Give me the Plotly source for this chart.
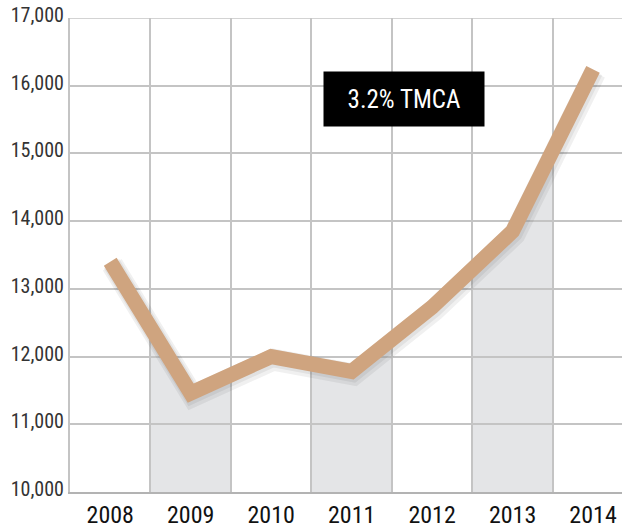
import plotly.graph_objects as go

years = ["2008", "2009", "2010", "2011", "2012", "2013", "2014"]
values = [13400, 11460, 12000, 11780, 12730, 13850, 16240]
shaded_years = ["2009", "2011", "2013"]
y_ticks = [10000, 11000, 12000, 13000, 14000, 15000, 16000, 17000]
y_tick_text = ["10,000", "11,000", "12,000", "13,000", "14,000", "15,000", "16,000", "17,000"]
label_text = "3.2% TMCA"

LINE = "#cfa47f"
FILL = "#e4e5e7"
GRID = "#c4c4c4"
FONT = "Liberation Sans Narrow, Roboto Condensed, Roboto, sans-serif"

xs = list(range(len(years)))
base = y_ticks[0]

shapes = []
for yr in shaded_years:
    i = years.index(yr)
    lv = (values[i - 1] + values[i]) / 2
    rv = (values[i] + values[i + 1]) / 2
    path = (f"M {i-0.5},{base} L {i-0.5},{lv} L {i},{values[i]} "
            f"L {i+0.5},{rv} L {i+0.5},{base} Z")
    shapes.append(dict(type="path", path=path, xref="x", yref="y",
                       fillcolor=FILL, line=dict(width=0), layer="below"))

fig = go.Figure()
# soft shadow
fig.add_trace(go.Scatter(x=[x + 0.025 for x in xs], y=[v - 45 for v in values],
                         mode="lines", line=dict(color="rgba(0,0,0,0.06)", width=22),
                         hoverinfo="skip", showlegend=False))
fig.add_trace(go.Scatter(x=[x + 0.015 for x in xs], y=[v - 25 for v in values],
                         mode="lines", line=dict(color="rgba(0,0,0,0.06)", width=18),
                         hoverinfo="skip", showlegend=False))
fig.add_trace(go.Scatter(x=xs, y=values, mode="lines",
                         line=dict(color=LINE, width=15, shape="linear"),
                         showlegend=False))

fig.add_annotation(x=3.65, y=15800, xref="x", yref="y", text=label_text,
                   showarrow=False, bgcolor="#000000",
                   font=dict(color="white", size=25, family=FONT),
                   width=160, height=54, borderpad=0)

fig.update_layout(
    width=622, height=528,
    margin=dict(l=70, r=0, t=18, b=36),
    paper_bgcolor="white", plot_bgcolor="white",
    shapes=shapes,
    xaxis=dict(range=[-0.5, 6.36], tickvals=xs, ticktext=years,
               showgrid=False, zeroline=False, automargin=False,
               showline=True, linecolor="#b3b3b3", linewidth=2,
               ticks="", tickfont=dict(size=24, color="#111111", family=FONT),
               minor=dict(tick0=0.5, dtick=1, showgrid=True, gridcolor=GRID, gridwidth=1.5)),
    yaxis=dict(range=[10000, 17000], tickvals=y_ticks, ticktext=y_tick_text,
               showgrid=True, gridcolor=GRID, gridwidth=1.5, zeroline=False,
               showline=True, linecolor=GRID, linewidth=2, automargin=False,
               ticks="", ticklabelstandoff=0, ticklabelshift=-3,
               tickfont=dict(size=20, color="#333333", family=FONT)),
)
fig.add_shape(type="line", xref="paper", yref="y", x0=0, x1=1, y0=17000, y1=17000,
              line=dict(color=GRID, width=1.5), layer="below")

fig.write_html("out.html", config={"displayModeBar": False},
               post_script="document.body.style.margin='0';")
